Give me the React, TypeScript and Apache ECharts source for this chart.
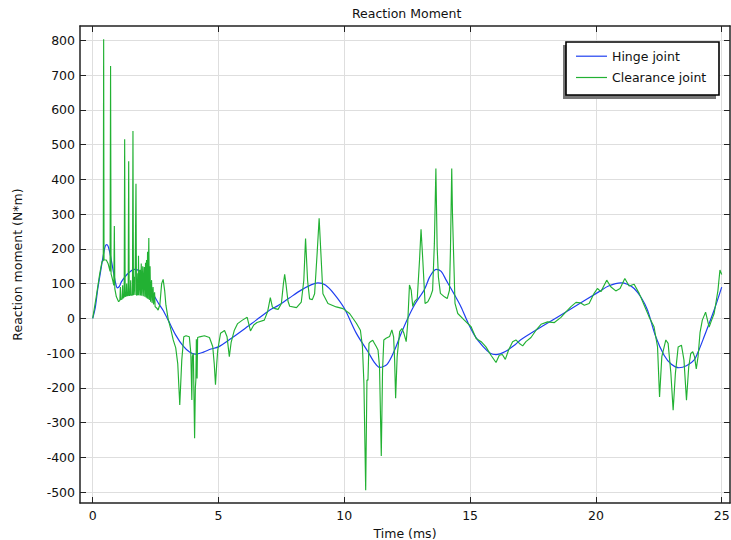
import React, { useEffect, useRef } from 'react';
import * as echarts from 'echarts';

const FONT = "'DejaVu Sans', 'Liberation Sans', sans-serif";

const chartTitle = 'Reaction Moment';
const xName = 'Time (ms)';
const yName = 'Reaction moment (N*m)';
const seriesNames = ['Hinge joint', 'Clearance joint'];

const xTicks = [0, 5, 10, 15, 20, 25];
const yTicks = [-500, -400, -300, -200, -100, 0, 100, 200, 300, 400, 500, 600, 700, 800];

// [time (ms), moment (N*m)]
const hingeData: number[][] = [
  [0, 0], [0.1, 30], [0.2, 85], [0.28, 120], [0.41, 177], [0.5, 208], [0.56, 212], [0.63, 204],
  [0.72, 175], [0.81, 139], [0.9, 105], [0.98, 88], [1.06, 92], [1.14, 105], [1.4, 129], [1.67, 141],
  [2.0, 129], [2.2, 105], [2.39, 72], [2.6, 45], [2.79, 24], [3.0, -5], [3.3, -48], [3.6, -80],
  [3.85, -97], [4.07, -103], [4.4, -97], [4.7, -88], [5.0, -82], [5.5, -58], [6.0, -32], [6.5, -5],
  [7.04, 24], [7.35, 36], [7.8, 58], [8.3, 82], [8.7, 97], [8.95, 102], [9.25, 96], [9.6, 70],
  [10.0, 29], [10.48, -43], [10.94, -96], [11.2, -127], [11.4, -141], [11.7, -132], [12.0, -91],
  [12.25, -45], [12.52, 0], [12.8, 40], [13.19, 84], [13.4, 120], [13.65, 141], [13.85, 135],
  [14.05, 110], [14.35, 72], [14.64, 33], [14.9, -10], [15.17, -48], [15.5, -80], [15.8, -100],
  [16.03, -104], [16.4, -95], [16.8, -75], [17.0, -62], [18.0, -17], [19.0, 27], [20.13, 77],
  [20.5, 93], [21.0, 102], [21.25, 98], [21.52, 86], [21.8, 60], [22.05, 24], [22.38, -53],
  [22.71, -106], [23.0, -132], [23.3, -142], [23.6, -136], [23.9, -120], [24.1, -90], [24.3, -53],
  [24.7, 24], [25.0, 90],
];

const clearanceData: number[][] = [
  [0, 0], [0.14, 62], [0.28, 129], [0.37, 163], [0.42, 166], [0.435, 803], [0.45, 168], [0.54, 168],
  [0.61, 158], [0.69, 135], [0.71, 726], [0.73, 128], [0.77, 117], [0.84, 95], [0.86, 266], [0.88, 85],
  [0.94, 62], [1.03, 48], [1.08, 52], [1.1, 90], [1.12, 54], [1.17, 56], [1.19, 95], [1.21, 58],
  [1.25, 62], [1.27, 515], [1.29, 63], [1.33, 64], [1.35, 100], [1.37, 65], [1.41, 65], [1.43, 452],
  [1.45, 66], [1.49, 66], [1.51, 110], [1.53, 67], [1.58, 67], [1.6, 539], [1.62, 67], [1.64, 67],
  [1.66, 120], [1.68, 67], [1.7, 67], [1.72, 387], [1.74, 67], [1.77, 67], [1.79, 130], [1.81, 67],
  [1.82, 180], [1.84, 66], [1.88, 140], [1.9, 66], [1.93, 158], [1.95, 65], [1.99, 150], [2.01, 64],
  [2.05, 148], [2.07, 62], [2.1, 160], [2.12, 60], [2.14, 168], [2.16, 58], [2.18, 192], [2.2, 56],
  [2.23, 231], [2.25, 53], [2.28, 150], [2.3, 48], [2.34, 110], [2.36, 44], [2.4, 90], [2.42, 40],
  [2.46, 75], [2.48, 34], [2.54, 30], [2.6, 24], [2.67, 40], [2.74, 100], [2.8, 112], [2.86, 80],
  [2.91, 38], [3.0, -2], [3.1, -30], [3.2, -62], [3.3, -85], [3.38, -130], [3.46, -249], [3.54, -120],
  [3.62, -53], [3.71, -50], [3.84, -53], [3.9, -100], [3.94, -235], [3.96, -110], [4.0, -100],
  [4.05, -345], [4.08, -200], [4.1, -177], [4.12, -60], [4.14, -60], [4.15, -173], [4.17, -55],
  [4.25, -53], [4.44, -50], [4.64, -55], [4.77, -81], [4.83, -130], [4.88, -191], [4.93, -130],
  [4.97, -91], [5.08, -43], [5.24, -35], [5.34, -53], [5.43, -110], [5.5, -70], [5.63, -34],
  [5.76, -15], [5.95, -5], [6.14, 3], [6.27, -36], [6.4, -19], [6.53, -12], [6.82, -5], [6.95, 19],
  [7.06, 60], [7.14, 33], [7.25, 28], [7.37, 26], [7.5, 43], [7.58, 100], [7.63, 127], [7.68, 100],
  [7.76, 50], [7.83, 35], [8.1, 31], [8.29, 47], [8.39, 109], [8.46, 230], [8.54, 109], [8.62, 56],
  [8.73, 54], [8.82, 71], [8.92, 187], [9.0, 288], [9.07, 187], [9.15, 71], [9.35, 43], [9.68, 33],
  [9.95, 28], [10.21, 14], [10.48, -14], [10.64, -34], [10.72, -80], [10.78, -187], [10.85, -494],
  [10.9, -177], [10.94, -178], [10.98, -72], [11.04, -67], [11.13, -63], [11.2, -72], [11.27, -81],
  [11.34, -91], [11.4, -139], [11.47, -396], [11.52, -150], [11.57, -62], [11.66, -57], [11.8, -52],
  [11.89, -33], [11.96, -53], [12.0, -120], [12.04, -230], [12.1, -110], [12.2, -38], [12.29, -29],
  [12.37, -43], [12.46, -67], [12.52, -14], [12.59, 96], [12.66, 81], [12.72, 34], [12.79, 48],
  [12.9, 57], [12.99, 168], [13.05, 256], [13.12, 168], [13.21, 43], [13.32, 48], [13.42, 62],
  [13.51, 81], [13.58, 215], [13.64, 431], [13.69, 206], [13.74, 119], [13.82, 72], [13.98, 62],
  [14.09, 57], [14.18, 81], [14.22, 200], [14.27, 431], [14.3, 300], [14.34, 196], [14.4, 43],
  [14.51, 14], [14.77, -5], [15.04, -24], [15.24, -58], [15.44, -67], [15.63, -82], [15.83, -106],
  [16.03, -127], [16.16, -106], [16.28, -104], [16.4, -118], [16.53, -91], [16.69, -67], [16.82, -62],
  [16.96, -72], [17.09, -79], [17.22, -67], [17.42, -55], [17.62, -34], [17.82, -17], [18.08, -10],
  [18.35, -12], [18.61, 3], [18.81, 19], [19.01, 34], [19.21, 46], [19.38, 45], [19.54, 38],
  [19.73, 43], [19.93, 72], [20.06, 86], [20.2, 77], [20.43, 110], [20.59, 91], [20.79, 79],
  [20.96, 86], [21.15, 115], [21.32, 93], [21.52, 98], [21.72, 72], [21.92, 38], [22.11, 5],
  [22.31, -24], [22.45, -82], [22.53, -226], [22.62, -110], [22.78, -62], [22.87, -72], [22.98, -158],
  [23.07, -264], [23.16, -158], [23.27, -82], [23.4, -77], [23.5, -120], [23.6, -235], [23.69, -139],
  [23.77, -101], [23.85, -96], [23.92, -110], [23.99, -145], [24.06, -110], [24.14, -40], [24.23, -5],
  [24.36, 18], [24.5, -25], [24.6, -5], [24.7, 14], [24.85, 80], [24.93, 139], [25.0, 126],
];

const X_MIN = -0.505;
const X_MAX = 25.33;
const Y_MIN = -531;
const Y_MAX = 841;

const LINE_ICON = 'path://M0,0 L31,0 L31,1.2 L0,1.2 Z';

export default function App() {
  const ref = useRef<HTMLDivElement>(null);

  useEffect(() => {
    if (!ref.current) return;
    const chart = echarts.init(ref.current, undefined, { renderer: 'svg' });
    const axisLine = { show: true, onZero: false, lineStyle: { color: '#222', width: 1.5 } };
    const labelStyle = { fontSize: 12.5, color: '#111', fontFamily: FONT };
    const gridLine = { show: true, lineStyle: { color: '#dedede', width: 1 } };

    chart.setOption({
      animation: false,
      backgroundColor: '#ffffff',
      title: {
        text: chartTitle,
        left: 352,
        top: 7,
        padding: 0,
        textStyle: { fontSize: 12.5, fontWeight: 'normal', color: '#111', fontFamily: FONT },
      },
      grid: { left: 80, right: 1, top: 26, bottom: 37, containLabel: false, outerBoundsMode: 'none' },
      xAxis: [
        {
          type: 'value', min: X_MIN, max: X_MAX, position: 'bottom',
          axisLine,
          axisTick: { show: true, inside: true, length: 6, customValues: xTicks, lineStyle: { color: '#222' } },
          axisLabel: { customValues: xTicks, margin: 6, ...labelStyle },
          splitLine: gridLine,
          name: xName, nameLocation: 'middle', nameGap: 21,
          nameTextStyle: labelStyle,
        },
        {
          type: 'value', min: X_MIN, max: X_MAX, position: 'top',
          axisLine,
          axisTick: { show: true, inside: true, length: 6, customValues: xTicks, lineStyle: { color: '#222' } },
          axisLabel: { show: false },
          splitLine: { show: false },
        },
      ],
      yAxis: [
        {
          type: 'value', min: Y_MIN, max: Y_MAX, position: 'left',
          axisLine,
          axisTick: { show: true, inside: true, length: 6, customValues: yTicks, lineStyle: { color: '#222' } },
          axisLabel: { customValues: yTicks, margin: 5, ...labelStyle },
          splitLine: gridLine,
          name: yName, nameLocation: 'middle', nameGap: 56,
          nameTextStyle: labelStyle,
        },
        {
          type: 'value', min: Y_MIN, max: Y_MAX, position: 'right',
          axisLine,
          axisTick: { show: true, inside: true, length: 6, customValues: yTicks, lineStyle: { color: '#222' } },
          axisLabel: { show: false },
          splitLine: { show: false },
        },
      ],
      graphic: [
        { type: 'rect', z: 10, shape: { x: 563, y: 45, width: 153, height: 54 }, style: { fill: '#777777' } },
        { type: 'rect', z: 11, shape: { x: 566, y: 42, width: 153, height: 53 }, style: { fill: '#ffffff', stroke: '#000000', lineWidth: 1.6 } },
      ],
      legend: {
        data: seriesNames.map((name) => ({ name, icon: LINE_ICON })),
        orient: 'vertical',
        left: 576,
        top: 49.7,
        padding: 0,
        itemWidth: 31,
        itemHeight: 14,
        itemGap: 8.3,
        symbolKeepAspect: true,
        selectedMode: false,
        z: 12,
        textStyle: { fontSize: 12.5, color: '#111', fontFamily: FONT },
      },
      series: [
        {
          type: 'line', name: seriesNames[0], data: hingeData, symbol: 'none', smooth: 0.3,
          xAxisIndex: 0, yAxisIndex: 0,
          lineStyle: { color: '#1f3ff0', width: 1.2 }, itemStyle: { color: '#1f3ff0' },
        },
        {
          type: 'line', name: seriesNames[1], data: clearanceData, symbol: 'none',
          xAxisIndex: 0, yAxisIndex: 0,
          lineStyle: { color: '#22b133', width: 1.15 }, itemStyle: { color: '#22b133' },
        },
      ],
    });
    return () => chart.dispose();
  }, []);

  return <div ref={ref} style={{ position: 'fixed', left: 0, top: 0, width: 731, height: 540 }} />;
}
